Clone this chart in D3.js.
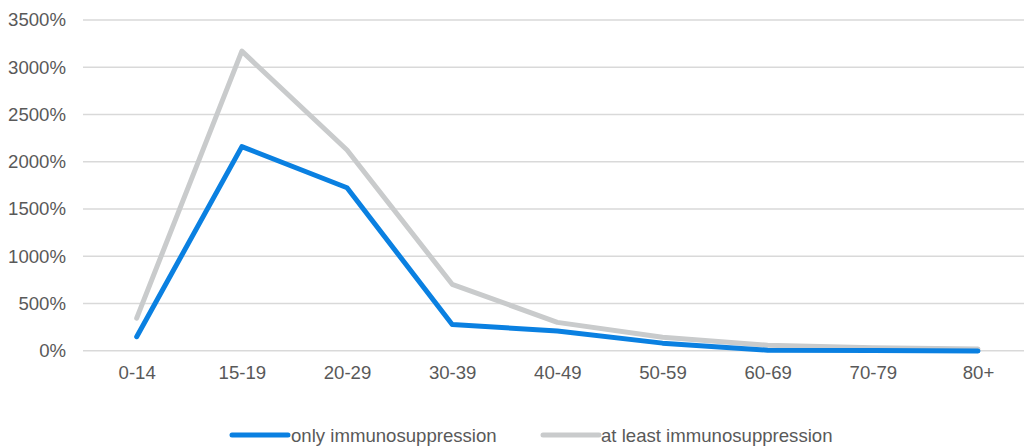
<!DOCTYPE html>
<html><head><meta charset="utf-8">
<script src="https://cdn.jsdelivr.net/npm/d3@7"></script>
<style>body{margin:0;background:#fff}svg{display:block}text{font-family:"Liberation Sans",Arial,sans-serif;fill:#595959}</style>
</head><body><svg id="c" width="1024" height="446"></svg>
<script>
const categories = ["0-14","15-19","20-29","30-39","40-49","50-59","60-69","70-79","80+"];
const onlyImmuno = [148, 2160, 1725, 277, 208, 80, 6, 3, -2];
const atLeastImmuno = [345, 3170, 2124, 703, 300, 142, 57, 32, 18];
const yTicks = [0, 500, 1000, 1500, 2000, 2500, 3000, 3500];
const seriesNames = ["only immunosuppression", "at least immunosuppression"];
const colors = ["#0a80e1", "#c9cbcc"];
const FS = 18.6;

const svg = d3.select("#c");
const x = d3.scalePoint().domain(categories).range([136.7, 978]);
const y = d3.scaleLinear().domain([0, 3500]).range([350.7, 20]);

// gridlines
svg.append("g").selectAll("line").data(yTicks).join("line")
  .attr("x1", 83).attr("x2", 1024)
  .attr("y1", d => y(d)).attr("y2", d => y(d))
  .attr("stroke", "#d9d9d9").attr("stroke-width", 1.5);

// y axis labels
const yAxis = d3.axisLeft(y).tickValues(yTicks).tickFormat(d => d + "%").tickSize(0).tickPadding(0);
const yg = svg.append("g").attr("transform", "translate(66,0)").call(yAxis);
yg.select(".domain").remove();
yg.selectAll("text").attr("font-size", FS).style("font-family", '"Liberation Sans",Arial,sans-serif').attr("fill", "#595959");

// x axis labels
const xAxis = d3.axisBottom(x).tickSize(0).tickPadding(0);
const xg = svg.append("g").attr("transform", "translate(0,365.5)").call(xAxis);
xg.select(".domain").remove();
xg.selectAll("text").attr("font-size", FS).style("font-family", '"Liberation Sans",Arial,sans-serif').attr("fill", "#595959");

const line = d3.line().x((d, i) => x(categories[i])).y(d => y(d));
[atLeastImmuno, onlyImmuno].forEach((s, k) => {
  const c = k === 0 ? colors[1] : colors[0];
  svg.append("path").datum(s).attr("d", line)
    .attr("fill", "none").attr("stroke", c).attr("stroke-width", 5)
    .attr("stroke-linejoin", "round").attr("stroke-linecap", "round");
});

// legend
const leg = [{x: 232, tx: 291}, {x: 543, tx: 601}];
seriesNames.forEach((n, i) => {
  svg.append("line").attr("x1", leg[i].x).attr("x2", leg[i].x + 56)
    .attr("y1", 435).attr("y2", 435).attr("stroke", colors[i]).attr("stroke-width", 5)
    .attr("stroke-linecap", "round");
  svg.append("text").attr("x", leg[i].tx).attr("y", 441.5).attr("font-size", FS).text(n);
});
</script></body></html>
